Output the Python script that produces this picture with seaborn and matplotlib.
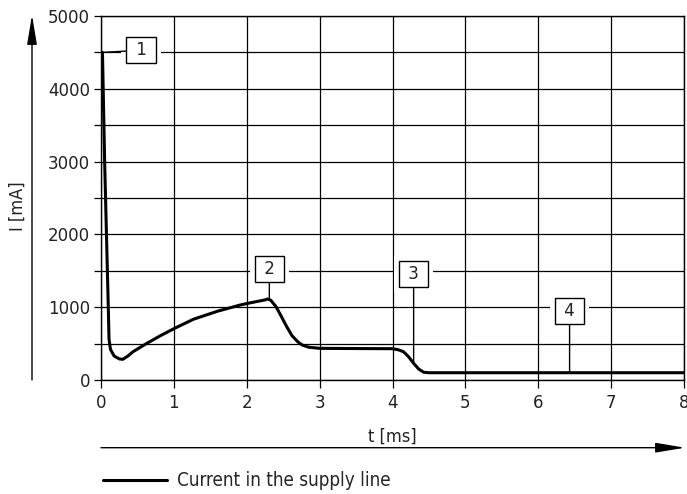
import matplotlib
matplotlib.use('Agg')
import matplotlib.pyplot as plt
from matplotlib.ticker import MultipleLocator
from matplotlib import font_manager
import seaborn as sns

# current curve
t_ms = [0.02, 0.05, 0.08, 0.10, 0.11, 0.13, 0.18, 0.25, 0.30, 0.37, 0.44, 0.63, 0.80,
        1.00, 1.27, 1.60, 1.91, 2.00, 2.15, 2.25, 2.29, 2.33, 2.40, 2.46, 2.55, 2.62,
        2.70, 2.76, 2.85, 3.00, 3.50, 4.00, 4.08, 4.15, 4.22, 4.29, 4.36, 4.43, 4.50,
        5.00, 6.00, 7.00, 8.00]
i_ma = [4500, 3000, 1800, 1000, 560, 420, 330, 290, 284, 330, 389, 504, 600,
        705, 835, 945, 1030, 1050, 1080, 1100, 1113, 1095, 1010, 900, 730, 610,
        525, 481, 450, 435, 432, 430, 415, 389, 320, 229, 150, 106, 100,
        100, 100, 100, 100]

# numbered markers: label, point on curve, box centre
marker_labels = ['1', '2', '3', '4']
marker_points = [(0.02, 4500), (2.31, 1110), (4.29, 229), (6.43, 100)]
marker_boxes = [(0.55, 4530), (2.31, 1527), (4.29, 1456), (6.43, 950)]

sns.set_style('white')
plt.rcParams['font.family'] = ['DejaVu Sans']

fig = plt.figure(figsize=(6.87, 4.94), dpi=100)
ax = fig.add_axes([101 / 687, 1 - 380 / 494, 583 / 687, 364 / 494])

sns.lineplot(x=t_ms, y=i_ma, ax=ax, color='black', linewidth=2.2,
             label='Current in the supply line', legend=False, zorder=5)

ax.set_xlim(0, 8)
ax.set_ylim(0, 5000)
ax.xaxis.set_major_locator(MultipleLocator(1))
ax.yaxis.set_major_locator(MultipleLocator(1000))
ax.yaxis.set_minor_locator(MultipleLocator(500))
ax.grid(True, which='both', color='black', linewidth=0.9)
ax.tick_params(axis='both', which='both', direction='out', color='black',
               width=0.9, labelsize=12, labelcolor='#222222')
ax.tick_params(axis='y', which='both', length=5, pad=3, left=True)
ax.tick_params(axis='x', length=6, pad=4, bottom=True)
for s in ax.spines.values():
    s.set_color('black')
    s.set_linewidth(1)
ax.set_xlabel('')
ax.set_ylabel('')

for lab, pt, box in zip(marker_labels, marker_points, marker_boxes):
    ax.text(box[0], box[1], ' ' + lab + ' ', fontsize=12, ha='center', va='center',
            color='none', zorder=6,
            bbox=dict(boxstyle='square,pad=0.55', fc='white', ec='none'))
    ax.annotate(' ' + lab + ' ', xy=pt, xytext=box, fontsize=12, ha='center',
                va='center', color='#222222', zorder=7,
                bbox=dict(boxstyle='square,pad=0.25', fc='white', ec='black', lw=1),
                arrowprops=dict(arrowstyle='-', color='black', lw=1,
                                shrinkA=0, shrinkB=0))

narrow = font_manager.FontProperties(family='DejaVu Sans', stretch='condensed', size=13)
legend_font = font_manager.FontProperties(family='DejaVu Sans', stretch='condensed', size=13.5)

# axis arrows and labels outside the axes
ax.annotate('', xy=(32 / 687, 1 - 15 / 494), xytext=(32 / 687, 1 - 380 / 494),
            xycoords='figure fraction', textcoords='figure fraction',
            arrowprops=dict(arrowstyle='-|>,head_length=1.5,head_width=0.25',
                            color='black', lw=1, mutation_scale=12,
                            shrinkA=0, shrinkB=0))
ax.annotate('', xy=(685 / 687, 1 - 447.7 / 494), xytext=(101 / 687, 1 - 447.7 / 494),
            xycoords='figure fraction', textcoords='figure fraction',
            arrowprops=dict(arrowstyle='-|>,head_length=1.5,head_width=0.25',
                            color='black', lw=1, mutation_scale=12,
                            shrinkA=0, shrinkB=0))
fig.text(18 / 687, 1 - 206 / 494, 'I [mA]', rotation=90, ha='center', va='center',
         fontproperties=narrow, color='#222222')
fig.text(392 / 687, 1 - 437 / 494, 't [ms]', ha='center', va='center',
         fontproperties=narrow, color='#222222')

handles, labels = ax.get_legend_handles_labels()
fig.legend(handles, labels, loc='center left',
           bbox_to_anchor=(103 / 687, 1 - 480.7 / 494), frameon=False,
           borderpad=0, borderaxespad=0, handlelength=3.4, handletextpad=0.55,
           prop=legend_font)

fig.savefig('out.png', dpi=100)
